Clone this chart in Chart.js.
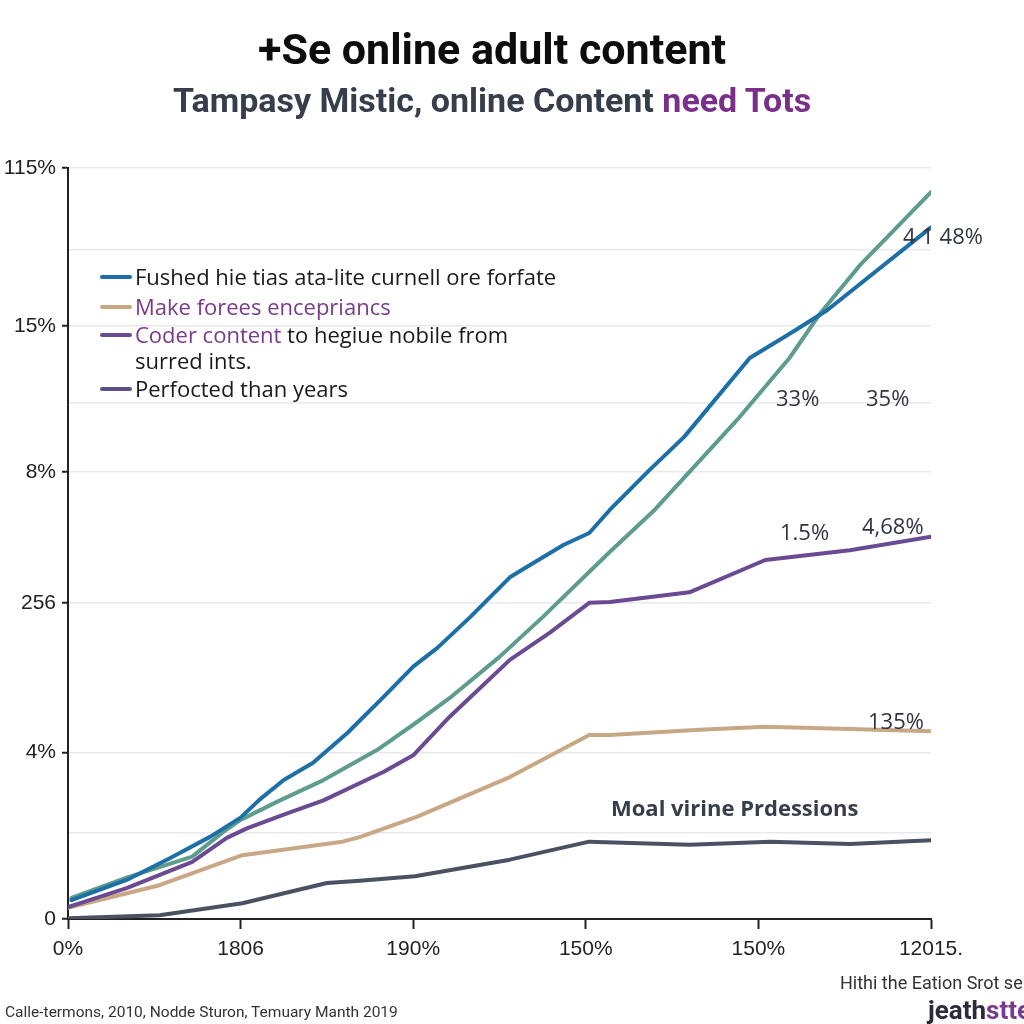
<!DOCTYPE html>
<html>
<head>
<meta charset="utf-8">
<script src="https://cdn.jsdelivr.net/npm/chart.js@4"></script>
<style>
  html, body { margin: 0; padding: 0; background: #fff; }
  #wrap { position: relative; width: 1024px; height: 1024px; overflow: hidden; background: #fff; }
  #c { position: absolute; left: 0; top: 0; }
  .t { position: absolute; white-space: nowrap; line-height: 1; }
  .title { font-family: "Roboto", "Liberation Sans", sans-serif; font-weight: bold; }
  .sw { position: absolute; height: 4px; width: 32px; border-radius: 2px; }
  .lg { font-family: "Open Sans", "Liberation Sans", sans-serif; font-size: 22px; color: #1a1a1a; }
  .ann { font-family: "Open Sans", "Liberation Sans", sans-serif; font-size: 22px; color: #2f3542; }
  .nar { font-family: "Roboto", "Liberation Sans", sans-serif; }
</style>
</head>
<body>
<div id="wrap">
  <canvas id="c" width="1024" height="1024"></canvas>
</div>
<script>
// ---------- data ----------
const xTickLabels = ["0%", "1806", "190%", "150%", "150%", "12015."];
const yTickValues = [0, 11.5, 22.2, 42.1, 59.5, 68.8, 79, 89.1, 100];
const yTickLabels = ["0", "", "4%", "256", "8%", "", "15%", "", "115%"];

const seriesNames = [
  "Fushed hie tias ata-lite curnell ore forfate",
  "Make forees encepriancs",
  "Coder content to hegiue nobile from surred ints.",
  "Perfocted than years",
  "Moal virine Prdessions"
];

const blueX = [0.02, 0.34, 0.59, 0.82, 1.0, 1.11, 1.25, 1.42, 1.62, 1.83, 2.0, 2.14, 2.33, 2.56, 2.66, 2.87, 3.02, 3.14, 3.37, 3.57, 3.95, 4.2, 4.4, 5.0];
const blueY = [2.5, 5.2, 8.1, 10.9, 13.5, 15.9, 18.5, 20.8, 24.8, 29.6, 33.6, 36.1, 40.2, 45.5, 46.9, 49.8, 51.4, 54.5, 59.8, 64.2, 74.7, 78.2, 81.1, 92.1];

const tealX = [0.02, 0.34, 0.72, 0.9, 1.0, 1.21, 1.48, 1.79, 2.02, 2.21, 2.5, 2.75, 3.14, 3.4, 3.89, 4.18, 4.36, 4.59, 5.0];
const tealY = [2.8, 5.5, 8.3, 11.6, 13.2, 15.6, 18.5, 22.5, 26.2, 29.4, 34.9, 40.2, 48.9, 54.5, 66.8, 74.7, 80.7, 87.1, 96.8];

const purpleX = [0, 0.34, 0.72, 0.92, 1.04, 1.25, 1.48, 1.83, 2.0, 2.21, 2.56, 2.79, 3.02, 3.14, 3.6, 4.04, 4.53, 5.0];
const purpleY = [1.6, 4.1, 7.6, 10.8, 12.1, 13.9, 15.8, 19.6, 21.8, 26.9, 34.5, 38.1, 42.1, 42.2, 43.5, 47.8, 49.1, 50.9];

const tanX = [0, 0.53, 1.01, 1.59, 1.69, 2.02, 2.56, 3.02, 3.14, 3.66, 4.04, 4.53, 5.0];
const tanY = [1.5, 4.5, 8.5, 10.3, 10.9, 13.6, 18.9, 24.5, 24.5, 25.2, 25.6, 25.3, 25.0];

const grayX = [0, 0.53, 1.01, 1.5, 1.69, 2.01, 2.56, 3.02, 3.6, 4.07, 4.53, 5.0];
const grayY = [0.1, 0.5, 2.1, 4.8, 5.1, 5.7, 7.9, 10.3, 9.9, 10.3, 10.0, 10.5];

const colors = { blue: "#1d6fa8", teal: "#5e9c8e", purple: "#6a4a92", tan: "#c8a784", gray: "#4a5163", slate: "#5f4f88" };

function pts(xs, ys) { return xs.map((x, i) => ({ x: x, y: ys[i] })); }

// ---------- text overlays ----------
const wrap = document.getElementById("wrap");
function addText(html, cls, left, top, style) {
  const d = document.createElement("div");
  d.className = "t " + cls;
  d.innerHTML = html;
  d.style.left = left + "px";
  d.style.top = top + "px";
  if (style) Object.assign(d.style, style);
  wrap.appendChild(d);
  return d;
}
function addSwatch(color, left, top) {
  const d = document.createElement("div");
  d.className = "sw";
  d.style.background = color;
  d.style.left = left + "px";
  d.style.top = top + "px";
  wrap.appendChild(d);
}

// Title / subtitle
addText("+Se online adult content", "title", 258, 28, { fontSize: "43px", color: "#0d0d0d" });
addText('Tampasy Mistic, online Content <span style="color:#7a2f8a">need Tots</span>', "title", 173, 83, { fontSize: "34px", color: "#363d4b" });

// Legend
const legendColors = [colors.blue, colors.tan, colors.purple, colors.slate];
addSwatch(legendColors[0], 100, 275);
addText(seriesNames[0], "lg", 135, 265);
addSwatch(legendColors[1], 100, 305);
addText(seriesNames[1], "lg", 135, 295, { color: "#7a3a8c" });
addSwatch(legendColors[2], 100, 333);
addText('<span style="color:#7a3a8c">Coder content</span> to hegiue nobile from', "lg", 135, 323);
addText("surred ints.", "lg", 135, 349);
addSwatch(legendColors[3], 100, 387);
addText(seriesNames[3], "lg", 135, 377);

// Annotations
addText("4 1 48%", "ann", 903, 224);
addText("33%", "ann", 776, 386);
addText("35%", "ann", 866, 386);
addText("1.5%", "ann", 780, 520);
addText("4,68%", "ann", 862, 514);
addText("135%", "ann", 868, 709);
addText(seriesNames[4], "ann", 611, 796, { fontWeight: "bold", color: "#363d4b" });

// Footer
addText("Calle-termons, 2010, Nodde Sturon, Temuary Manth 2019", "nar", 5, 1005, { fontSize: "15.5px", color: "#333" });
addText("Hithi the Eation Srot se", "nar", 840, 974, { fontSize: "18px", color: "#333" });
addText('<span style="color:#2b2b3d">jeath</span><span style="color:#7a3a8c">stte</span>', "title", 928, 997, { fontSize: "26px" });

// ---------- chart ----------
const tickFont = { family: "'Liberation Sans', Roboto, sans-serif", size: 21 };
new Chart(document.getElementById("c"), {
  type: "line",
  data: {
    datasets: [
      { label: seriesNames[0], data: pts(blueX, blueY), borderColor: colors.blue },
      { label: "teal", data: pts(tealX, tealY), borderColor: colors.teal },
      { label: seriesNames[2], data: pts(purpleX, purpleY), borderColor: colors.purple },
      { label: seriesNames[1], data: pts(tanX, tanY), borderColor: colors.tan },
      { label: seriesNames[4], data: pts(grayX, grayY), borderColor: colors.gray }
    ].map(d => Object.assign(d, { borderWidth: 4, pointRadius: 0, tension: 0, fill: false, borderCapStyle: "round", borderJoinStyle: "round" }))
  },
  options: {
    responsive: false,
    animation: false,
    layout: { padding: { left: 0, right: 93, top: 168, bottom: 45 } },
    plugins: { legend: { display: false }, title: { display: false }, tooltip: { enabled: false } },
    scales: {
      x: {
        type: "linear", min: 0, max: 5,
        afterBuildTicks: s => { s.ticks = xTickLabels.map((_, i) => ({ value: i })); },
        afterFit: s => { s.height = 60; },
        ticks: { callback: v => xTickLabels[v], font: tickFont, color: "#222", padding: 8, maxRotation: 0, autoSkip: false },
        grid: { drawOnChartArea: false, tickLength: 10, tickColor: "#222", tickWidth: 2 },
        border: { color: "#222", width: 2 }
      },
      y: {
        type: "linear", min: 0, max: 100,
        afterBuildTicks: s => { s.ticks = yTickValues.map(v => ({ value: v })); },
        afterFit: s => { s.width = 68; },
        ticks: { callback: (v, i) => yTickLabels[i], font: tickFont, color: "#222", padding: 6, autoSkip: false },
        grid: { color: "#e9e9e9", lineWidth: 1.5, tickLength: 6, tickColor: c => (yTickLabels[c.index] ? "#222" : "rgba(0,0,0,0)"), tickWidth: 2 },
        border: { color: "#222", width: 2 }
      }
    }
  }
});
</script>
</body>
</html>
